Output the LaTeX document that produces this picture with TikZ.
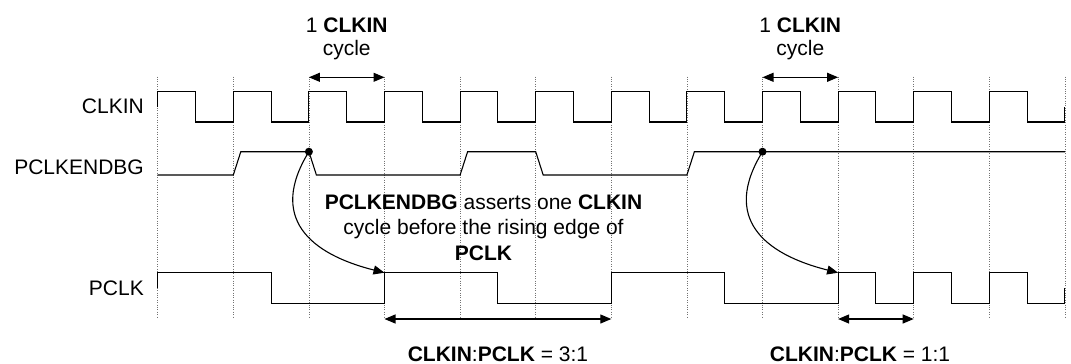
\documentclass[tikz,border=0pt]{standalone}
\usepackage{fontspec}
\setmainfont{Liberation Sans}
\usetikzlibrary{arrows.meta}
\begin{document}
\begin{tikzpicture}[x=1pt,y=-1pt,
  sig/.style={line width=1.1pt, line join=miter},
  gridline/.style={black!55, line width=0.6pt, dash pattern=on 0.8pt off 1.6pt},
  dim/.style={line width=1.1pt, {Triangle[length=11pt,width=9pt]}-{Triangle[length=11pt,width=9pt]}},
  cause/.style={line width=1.1pt, -{Triangle[length=11pt,width=9pt]}},
  lbl/.style={font=\fontsize{21}{25.5}\selectfont, inner sep=0pt, anchor=base},
  signame/.style={font=\fontsize{21}{25.5}\selectfont, inner sep=0pt, anchor=base east},
  dotnode/.style={circle, fill=black, inner sep=0pt, minimum size=8pt}
]
\useasboundingbox (0,0) rectangle (1071,364);

% grid
\foreach \k in {0,...,12}
  \draw[gridline] ({157.7+75.6*\k},76.5) -- ({157.7+75.6*\k},318);

% signal names
\node[signame] (nclkin) at (144,113.5) {CLKIN};
\node[signame] (npen) at (144,174.8) {PCLKENDBG};
\node[signame] (npclk) at (144,295) {PCLK};

% CLKIN
\draw[sig] (157.7,106.5) -- (157.7,91.7)
  \foreach \k in {0,...,10} { -- ({157.7+75.6*\k+37.8},91.7) -- ({157.7+75.6*\k+37.8},122) -- ({157.7+75.6*(\k+1)},122) -- ({157.7+75.6*(\k+1)},91.7) }
  -- (1027.1,91.7) -- (1027.1,122) -- (1064.9,122) -- (1064.9,107);

% PCLKENDBG
\draw[sig] (157.7,175) -- (233.3,175) -- (240.8,151.7) -- (308.9,151.7) -- (316.4,175)
  -- (460.1,175) -- (467.6,151.7) -- (535.7,151.7) -- (543.2,175)
  -- (686.9,175) -- (694.4,151.7) -- (1064.9,151.7);

% PCLK
\draw[sig] (157.7,287.5) -- (157.7,272.7) -- (271.1,272.7) -- (271.1,303.3) -- (384.5,303.3)
  -- (384.5,272.7) -- (497.9,272.7) -- (497.9,303.3) -- (611.3,303.3)
  -- (611.3,272.7) -- (724.7,272.7) -- (724.7,303.3) -- (838.1,303.3)
  -- (838.1,272.7) -- (875.9,272.7) -- (875.9,303.3) -- (913.7,303.3)
  -- (913.7,272.7) -- (951.5,272.7) -- (951.5,303.3) -- (989.3,303.3)
  -- (989.3,272.7) -- (1027.1,272.7) -- (1027.1,303.3) -- (1064.9,303.3) -- (1064.9,288);

% top cycle arrows
\coordinate (t1a) at (308.9,77.3);
\coordinate (t1b) at (384.5,77.3);
\coordinate (t2a) at (762.5,77.3);
\coordinate (t2b) at (838.1,77.3);
\draw[dim] (t1a) -- (t1b);
\draw[dim] (t2a) -- (t2b);
\node[lbl] (t1l1) at (346.7,32.5) {1 \textbf{CLKIN}};
\node[lbl] (t1l2) at (346.7,55) {cycle};
\node[lbl] (t2l1) at (800.3,32.5) {1 \textbf{CLKIN}};
\node[lbl] (t2l2) at (800.3,55) {cycle};

% causal curves
\node[dotnode] (d1) at (308.9,151.7) {};
\node[dotnode] (d2) at (762.5,151.7) {};
\coordinate (r1) at (384.5,272.7);
\coordinate (r2) at (838.1,272.7);
\draw[cause] (d1.center) .. controls (268,218) and (310,254) .. (r1);
\draw[cause] (d2.center) .. controls (721.6,218) and (763.6,254) .. (r2);

% middle explanation
\node[lbl] (m1) at (483.5,209) {\textbf{PCLKENDBG} asserts one \textbf{CLKIN}};
\node[lbl] (m2) at (483.5,234.5) {cycle before the rising edge of};
\node[lbl] (m3) at (483.5,260) {\textbf{PCLK}};

% ratio arrows
\coordinate (b1a) at (384.5,319);
\coordinate (b1b) at (611.3,319);
\coordinate (b2a) at (838.1,319);
\coordinate (b2b) at (913.7,319);
\draw[dim] (b1a) -- (b1b);
\draw[dim] (b2a) -- (b2b);
\node[lbl] (rl1) at (497.9,361.5) {\textbf{CLKIN}:\textbf{PCLK} = 3:1};
\node[lbl] (rl2) at (860,361.5) {\textbf{CLKIN}:\textbf{PCLK} = 1:1};
\end{tikzpicture}
\end{document}
